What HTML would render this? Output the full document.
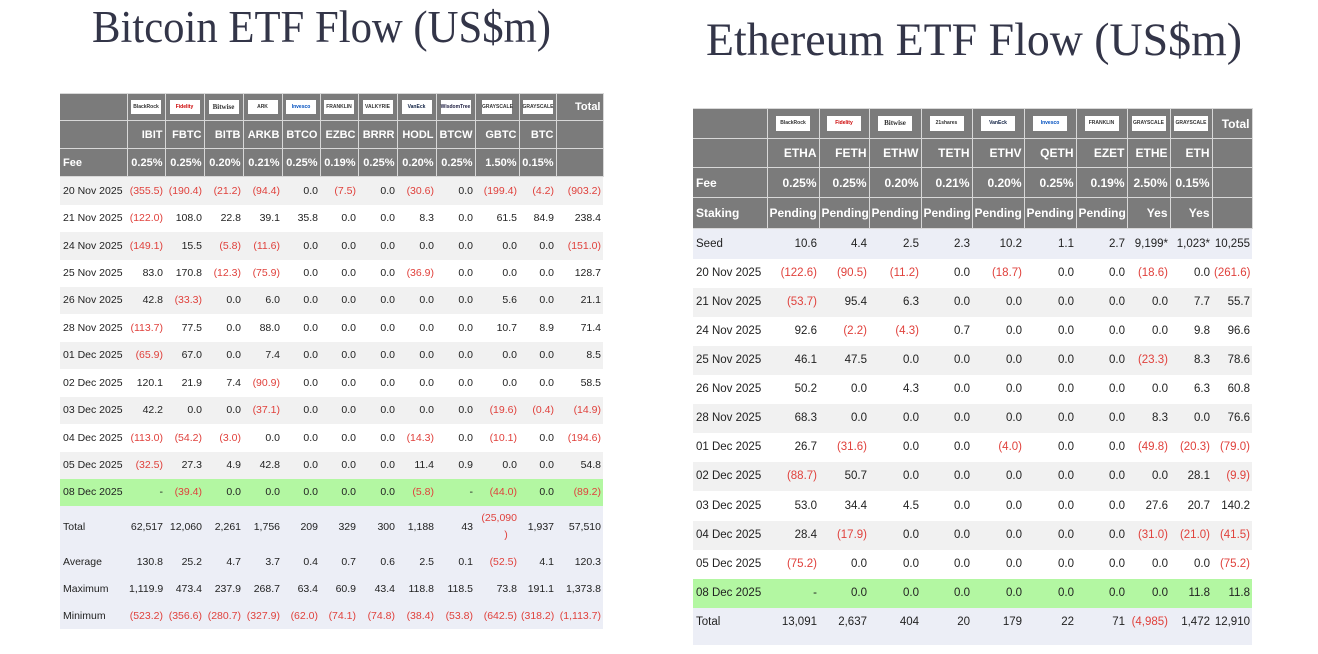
<!DOCTYPE html>
<html><head><meta charset="utf-8"><style>
html,body{margin:0;padding:0;background:#fff;width:1318px;height:654px;overflow:hidden;position:relative;font-family:"Liberation Sans",sans-serif}
.t{position:absolute;border-collapse:collapse;table-layout:fixed;font-size:10.5px;color:#222}
.t td{padding:0 2px 0 2px;text-align:right;white-space:nowrap;overflow:visible}
.t td:first-child{text-align:left;padding-left:3px}
.t tr.h td{background:#7b7b7b;color:#fff;font-weight:bold;border:1px solid #d8d8d8;font-size:11px}
.t tr.h td:first-child{border-left:none}
#e{font-size:11.5px}
#e tr.h td{font-size:12px}
.g{background:#f1f1f1}.w{background:#fff}.gr{background:#b3f7a2}.lv{background:#eceef6}
.r{color:#e0413c}
.logo{display:inline-block;background:#fff;height:14px;width:30px;font-size:5px;color:#333;text-align:center;line-height:14px;vertical-align:middle;font-weight:bold}
#e .logo{width:34px;height:15px;line-height:15px}
svg{position:absolute;left:0;top:0}
</style></head><body>
<svg width="1318" height="80"><text x="92" y="42" font-family="Liberation Serif" font-size="45" fill="#333548" textLength="459" lengthAdjust="spacingAndGlyphs">Bitcoin ETF Flow (US$m)</text>
<text x="706" y="55" font-family="Liberation Serif" font-size="47" fill="#333548" textLength="536" lengthAdjust="spacingAndGlyphs">Ethereum ETF Flow (US$m)</text></svg>

<table class="t" style="left:60px;top:93px;width:543px">
<colgroup><col style="width:67px"><col style="width:38px"><col style="width:39px"><col style="width:39px"><col style="width:39px"><col style="width:38px"><col style="width:38px"><col style="width:39px"><col style="width:39px"><col style="width:39px"><col style="width:44px"><col style="width:37px"><col style="width:47px"></colgroup>
<tr class="h" style="height:27px"><td></td><td style="text-align:center"><span class="logo">BlackRock</span></td><td style="text-align:center"><span class="logo" style="color:#c00">Fidelity</span></td><td style="text-align:center"><span class="logo" style="font-size:7px;font-family:'Liberation Serif'">Bitwise</span></td><td style="text-align:center"><span class="logo">ARK</span></td><td style="text-align:center"><span class="logo" style="color:#0050c0">Invesco</span></td><td style="text-align:center"><span class="logo">FRANKLIN</span></td><td style="text-align:center"><span class="logo">VALKYRIE</span></td><td style="text-align:center"><span class="logo" style="color:#124">VanEck</span></td><td style="text-align:center"><span class="logo" style="color:#224">WisdomTree</span></td><td style="text-align:center"><span class="logo">GRAYSCALE</span></td><td style="text-align:center"><span class="logo">GRAYSCALE</span></td><td>Total</td></tr>
<tr class="h" style="height:28px"><td></td><td>IBIT</td><td>FBTC</td><td>BITB</td><td>ARKB</td><td>BTCO</td><td>EZBC</td><td>BRRR</td><td>HODL</td><td>BTCW</td><td>GBTC</td><td>BTC</td><td></td></tr>
<tr class="h" style="height:28px"><td>Fee</td><td>0.25%</td><td>0.25%</td><td>0.20%</td><td>0.21%</td><td>0.25%</td><td>0.19%</td><td>0.25%</td><td>0.20%</td><td>0.25%</td><td>1.50%</td><td>0.15%</td><td></td></tr>
<tr class="g" style="height:28px"><td>20 Nov 2025</td><td class="r">(355.5)</td><td class="r">(190.4)</td><td class="r">(21.2)</td><td class="r">(94.4)</td><td>0.0</td><td class="r">(7.5)</td><td>0.0</td><td class="r">(30.6)</td><td>0.0</td><td class="r">(199.4)</td><td class="r">(4.2)</td><td class="r">(903.2)</td></tr>
<tr class="w" style="height:27px"><td>21 Nov 2025</td><td class="r">(122.0)</td><td>108.0</td><td>22.8</td><td>39.1</td><td>35.8</td><td>0.0</td><td>0.0</td><td>8.3</td><td>0.0</td><td>61.5</td><td>84.9</td><td>238.4</td></tr>
<tr class="g" style="height:28px"><td>24 Nov 2025</td><td class="r">(149.1)</td><td>15.5</td><td class="r">(5.8)</td><td class="r">(11.6)</td><td>0.0</td><td>0.0</td><td>0.0</td><td>0.0</td><td>0.0</td><td>0.0</td><td>0.0</td><td class="r">(151.0)</td></tr>
<tr class="w" style="height:27px"><td>25 Nov 2025</td><td>83.0</td><td>170.8</td><td class="r">(12.3)</td><td class="r">(75.9)</td><td>0.0</td><td>0.0</td><td>0.0</td><td class="r">(36.9)</td><td>0.0</td><td>0.0</td><td>0.0</td><td>128.7</td></tr>
<tr class="g" style="height:27px"><td>26 Nov 2025</td><td>42.8</td><td class="r">(33.3)</td><td>0.0</td><td>6.0</td><td>0.0</td><td>0.0</td><td>0.0</td><td>0.0</td><td>0.0</td><td>5.6</td><td>0.0</td><td>21.1</td></tr>
<tr class="w" style="height:28px"><td>28 Nov 2025</td><td class="r">(113.7)</td><td>77.5</td><td>0.0</td><td>88.0</td><td>0.0</td><td>0.0</td><td>0.0</td><td>0.0</td><td>0.0</td><td>10.7</td><td>8.9</td><td>71.4</td></tr>
<tr class="g" style="height:27px"><td>01 Dec 2025</td><td class="r">(65.9)</td><td>67.0</td><td>0.0</td><td>7.4</td><td>0.0</td><td>0.0</td><td>0.0</td><td>0.0</td><td>0.0</td><td>0.0</td><td>0.0</td><td>8.5</td></tr>
<tr class="w" style="height:28px"><td>02 Dec 2025</td><td>120.1</td><td>21.9</td><td>7.4</td><td class="r">(90.9)</td><td>0.0</td><td>0.0</td><td>0.0</td><td>0.0</td><td>0.0</td><td>0.0</td><td>0.0</td><td>58.5</td></tr>
<tr class="g" style="height:27px"><td>03 Dec 2025</td><td>42.2</td><td>0.0</td><td>0.0</td><td class="r">(37.1)</td><td>0.0</td><td>0.0</td><td>0.0</td><td>0.0</td><td>0.0</td><td class="r">(19.6)</td><td class="r">(0.4)</td><td class="r">(14.9)</td></tr>
<tr class="w" style="height:28px"><td>04 Dec 2025</td><td class="r">(113.0)</td><td class="r">(54.2)</td><td class="r">(3.0)</td><td>0.0</td><td>0.0</td><td>0.0</td><td>0.0</td><td class="r">(14.3)</td><td>0.0</td><td class="r">(10.1)</td><td>0.0</td><td class="r">(194.6)</td></tr>
<tr class="g" style="height:27px"><td>05 Dec 2025</td><td class="r">(32.5)</td><td>27.3</td><td>4.9</td><td>42.8</td><td>0.0</td><td>0.0</td><td>0.0</td><td>11.4</td><td>0.9</td><td>0.0</td><td>0.0</td><td>54.8</td></tr>
<tr class="gr" style="height:27px"><td>08 Dec 2025</td><td>-</td><td class="r">(39.4)</td><td>0.0</td><td>0.0</td><td>0.0</td><td>0.0</td><td>0.0</td><td class="r">(5.8)</td><td>-</td><td class="r">(44.0)</td><td>0.0</td><td class="r">(89.2)</td></tr>
<tr class="lv" style="height:42px"><td>Total</td><td>62,517</td><td>12,060</td><td>2,261</td><td>1,756</td><td>209</td><td>329</td><td>300</td><td>1,188</td><td>43</td><td class="r" style="line-height:17px;text-align:right">(25,090<br><span style="display:inline-block;width:22px;text-align:center">)</span></td><td>1,937</td><td>57,510</td></tr>
<tr class="lv" style="height:28px"><td>Average</td><td>130.8</td><td>25.2</td><td>4.7</td><td>3.7</td><td>0.4</td><td>0.7</td><td>0.6</td><td>2.5</td><td>0.1</td><td class="r">(52.5)</td><td>4.1</td><td>120.3</td></tr>
<tr class="lv" style="height:27px"><td>Maximum</td><td>1,119.9</td><td>473.4</td><td>237.9</td><td>268.7</td><td>63.4</td><td>60.9</td><td>43.4</td><td>118.8</td><td>118.5</td><td>73.8</td><td>191.1</td><td>1,373.8</td></tr>
<tr class="lv r" style="height:26px"><td style="color:#222">Minimum</td><td>(523.2)</td><td>(356.6)</td><td>(280.7)</td><td>(327.9)</td><td>(62.0)</td><td>(74.1)</td><td>(74.8)</td><td>(38.4)</td><td>(53.8)</td><td>(642.5)</td><td>(318.2)</td><td>(1,113.7)</td></tr>
</table>

<table class="t" id="e" style="left:693px;top:108px;width:559px">
<colgroup><col style="width:74px"><col style="width:52px"><col style="width:50px"><col style="width:52px"><col style="width:51px"><col style="width:52px"><col style="width:52px"><col style="width:51px"><col style="width:43px"><col style="width:42px"><col style="width:40px"></colgroup>
<tr class="h" style="height:30px"><td></td><td style="text-align:center"><span class="logo">BlackRock</span></td><td style="text-align:center"><span class="logo" style="color:#c00">Fidelity</span></td><td style="text-align:center"><span class="logo" style="font-size:7px;font-family:'Liberation Serif'">Bitwise</span></td><td style="text-align:center"><span class="logo">21shares</span></td><td style="text-align:center"><span class="logo" style="color:#124">VanEck</span></td><td style="text-align:center"><span class="logo" style="color:#0050c0">Invesco</span></td><td style="text-align:center"><span class="logo">FRANKLIN</span></td><td style="text-align:center"><span class="logo">GRAYSCALE</span></td><td style="text-align:center"><span class="logo">GRAYSCALE</span></td><td>Total</td></tr>
<tr class="h" style="height:29px"><td></td><td>ETHA</td><td>FETH</td><td>ETHW</td><td>TETH</td><td>ETHV</td><td>QETH</td><td>EZET</td><td>ETHE</td><td>ETH</td><td></td></tr>
<tr class="h" style="height:30px"><td>Fee</td><td>0.25%</td><td>0.25%</td><td>0.20%</td><td>0.21%</td><td>0.20%</td><td>0.25%</td><td>0.19%</td><td>2.50%</td><td>0.15%</td><td></td></tr>
<tr class="h" style="height:31px"><td>Staking</td><td>Pending</td><td>Pending</td><td>Pending</td><td>Pending</td><td>Pending</td><td>Pending</td><td>Pending</td><td>Yes</td><td>Yes</td><td></td></tr>
<tr class="lv" style="height:30px"><td>Seed</td><td>10.6</td><td>4.4</td><td>2.5</td><td>2.3</td><td>10.2</td><td>1.1</td><td>2.7</td><td>9,199*</td><td>1,023*</td><td>10,255</td></tr>
<tr class="w" style="height:29px"><td>20 Nov 2025</td><td class="r">(122.6)</td><td class="r">(90.5)</td><td class="r">(11.2)</td><td>0.0</td><td class="r">(18.7)</td><td>0.0</td><td>0.0</td><td class="r">(18.6)</td><td>0.0</td><td class="r">(261.6)</td></tr>
<tr class="g" style="height:29px"><td>21 Nov 2025</td><td class="r">(53.7)</td><td>95.4</td><td>6.3</td><td>0.0</td><td>0.0</td><td>0.0</td><td>0.0</td><td>0.0</td><td>7.7</td><td>55.7</td></tr>
<tr class="w" style="height:29px"><td>24 Nov 2025</td><td>92.6</td><td class="r">(2.2)</td><td class="r">(4.3)</td><td>0.7</td><td>0.0</td><td>0.0</td><td>0.0</td><td>0.0</td><td>9.8</td><td>96.6</td></tr>
<tr class="g" style="height:29px"><td>25 Nov 2025</td><td>46.1</td><td>47.5</td><td>0.0</td><td>0.0</td><td>0.0</td><td>0.0</td><td>0.0</td><td class="r">(23.3)</td><td>8.3</td><td>78.6</td></tr>
<tr class="w" style="height:29px"><td>26 Nov 2025</td><td>50.2</td><td>0.0</td><td>4.3</td><td>0.0</td><td>0.0</td><td>0.0</td><td>0.0</td><td>0.0</td><td>6.3</td><td>60.8</td></tr>
<tr class="g" style="height:29px"><td>28 Nov 2025</td><td>68.3</td><td>0.0</td><td>0.0</td><td>0.0</td><td>0.0</td><td>0.0</td><td>0.0</td><td>8.3</td><td>0.0</td><td>76.6</td></tr>
<tr class="w" style="height:29px"><td>01 Dec 2025</td><td>26.7</td><td class="r">(31.6)</td><td>0.0</td><td>0.0</td><td class="r">(4.0)</td><td>0.0</td><td>0.0</td><td class="r">(49.8)</td><td class="r">(20.3)</td><td class="r">(79.0)</td></tr>
<tr class="g" style="height:29px"><td>02 Dec 2025</td><td class="r">(88.7)</td><td>50.7</td><td>0.0</td><td>0.0</td><td>0.0</td><td>0.0</td><td>0.0</td><td>0.0</td><td>28.1</td><td class="r">(9.9)</td></tr>
<tr class="w" style="height:30px"><td>03 Dec 2025</td><td>53.0</td><td>34.4</td><td>4.5</td><td>0.0</td><td>0.0</td><td>0.0</td><td>0.0</td><td>27.6</td><td>20.7</td><td>140.2</td></tr>
<tr class="g" style="height:29px"><td>04 Dec 2025</td><td>28.4</td><td class="r">(17.9)</td><td>0.0</td><td>0.0</td><td>0.0</td><td>0.0</td><td>0.0</td><td class="r">(31.0)</td><td class="r">(21.0)</td><td class="r">(41.5)</td></tr>
<tr class="w" style="height:29px"><td>05 Dec 2025</td><td class="r">(75.2)</td><td>0.0</td><td>0.0</td><td>0.0</td><td>0.0</td><td>0.0</td><td>0.0</td><td>0.0</td><td>0.0</td><td class="r">(75.2)</td></tr>
<tr class="gr" style="height:29px"><td>08 Dec 2025</td><td>-</td><td>0.0</td><td>0.0</td><td>0.0</td><td>0.0</td><td>0.0</td><td>0.0</td><td>0.0</td><td>11.8</td><td>11.8</td></tr>
<tr class="lv" style="height:37px"><td style="vertical-align:top;padding-top:8px">Total</td><td style="vertical-align:top;padding-top:8px">13,091</td><td style="vertical-align:top;padding-top:8px">2,637</td><td style="vertical-align:top;padding-top:8px">404</td><td style="vertical-align:top;padding-top:8px">20</td><td style="vertical-align:top;padding-top:8px">179</td><td style="vertical-align:top;padding-top:8px">22</td><td style="vertical-align:top;padding-top:8px">71</td><td class="r" style="vertical-align:top;padding-top:8px">(4,985)</td><td style="vertical-align:top;padding-top:8px">1,472</td><td style="vertical-align:top;padding-top:8px">12,910</td></tr>
</table>
</body></html>
